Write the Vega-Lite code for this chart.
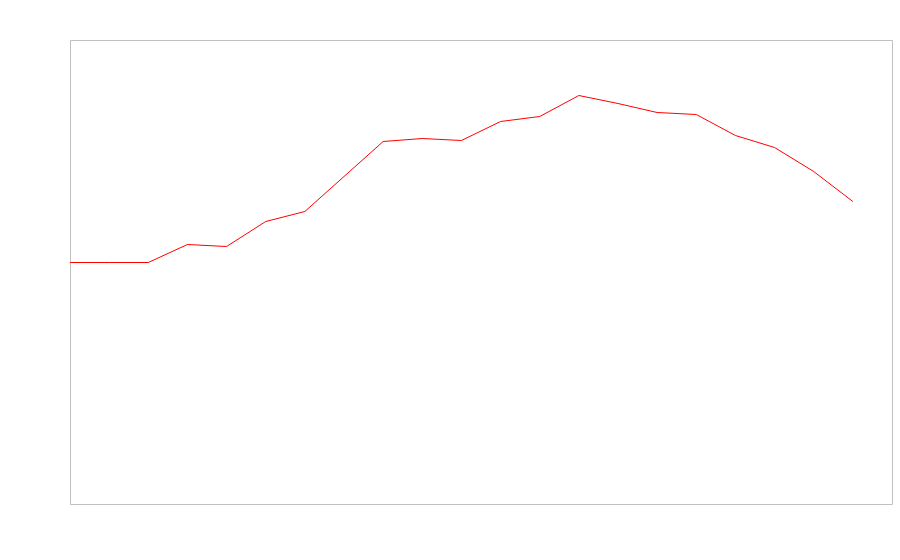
{
  "$schema": "https://vega.github.io/schema/vega-lite/v6.json",
  "width": 822,
  "height": 464,
  "autosize": {"type": "none"},
  "padding": {"left": 70, "top": 40, "right": 8, "bottom": 56},
  "background": "white",
  "config": {"view": {"stroke": "#c0c0c0", "strokeWidth": 1}},
  "data": {"values": [
    {"x": 0, "y": 241.5}, {"x": 1, "y": 241.5}, {"x": 2, "y": 241.5}, {"x": 3, "y": 259.5},
    {"x": 4, "y": 257.5}, {"x": 5, "y": 282.5}, {"x": 6, "y": 292.5}, {"x": 7, "y": 327.5},
    {"x": 8, "y": 362.5}, {"x": 9, "y": 365.5}, {"x": 10, "y": 363.5}, {"x": 11, "y": 382.5},
    {"x": 12, "y": 387.5}, {"x": 13, "y": 408.5}, {"x": 14, "y": 400.5}, {"x": 15, "y": 391.5},
    {"x": 16, "y": 389.5}, {"x": 17, "y": 368.5}, {"x": 18, "y": 356.5}, {"x": 19, "y": 332.5},
    {"x": 20, "y": 302.5}
  ]},
  "mark": {"type": "line", "color": "red", "strokeWidth": 1},
  "encoding": {
    "x": {"field": "x", "type": "quantitative", "scale": {"domain": [0, 21], "nice": false, "zero": false}, "axis": null},
    "y": {"field": "y", "type": "quantitative", "scale": {"domain": [0, 464], "nice": false}, "axis": null}
  }
}
